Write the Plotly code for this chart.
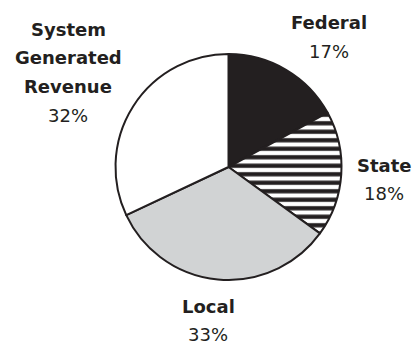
import plotly.graph_objects as go

# Revenue sources and their shares (percent)
sources = ["Federal", "State", "Local", "System Generated Revenue"]
shares = [17, 18, 33, 32]

# Label text lines for each source (bold name lines, then the share)
name_lines = [["Federal"], ["State"], ["Local"], ["System", "Generated", "Revenue"]]

W, H = 414, 341
ink = "#231f20"

fills = [ink, "white", "#d1d3d4", "white"]
patterns = ["", "-", "", ""]

fig = go.Figure(
    go.Pie(
        labels=sources,
        values=shares,
        sort=False,
        direction="clockwise",
        rotation=0,
        textinfo="none",
        hoverinfo="label+percent",
        marker=dict(
            colors=fills,
            line=dict(color=ink, width=2),
            pattern=dict(
                shape=patterns,
                fgcolor=ink,
                bgcolor="white",
                size=8.5,
                solidity=0.5,
            ),
        ),
        domain=dict(x=[(228.5 - 113) / W, (228.5 + 113) / W],
                    y=[1 - 280 / H, 1 - 54 / H]),
        showlegend=False,
    )
)

# Label anchor: (center x px, first-line center y px) for each source
label_pos = [(329, 22.5), (384, 165), (208, 306), (68, 29)]
line_gap = 28.7

annotations = []
for names, share, (cx, cy) in zip(name_lines, shares, label_pos):
    lines = [f"<b>{n}</b>" for n in names] + [f"{share}%"]
    for i, line in enumerate(lines):
        y_px = cy + i * line_gap
        annotations.append(dict(
            x=cx / W, y=1 - y_px / H, xref="paper", yref="paper",
            text=line, showarrow=False, xanchor="center", yanchor="middle",
            font=dict(family="DejaVu Sans", size=18, color=ink),
        ))

fig.update_layout(
    width=W, height=H,
    margin=dict(l=0, r=0, t=0, b=0),
    paper_bgcolor="white",
    plot_bgcolor="white",
    annotations=annotations,
)

fig.write_html("out.html")
